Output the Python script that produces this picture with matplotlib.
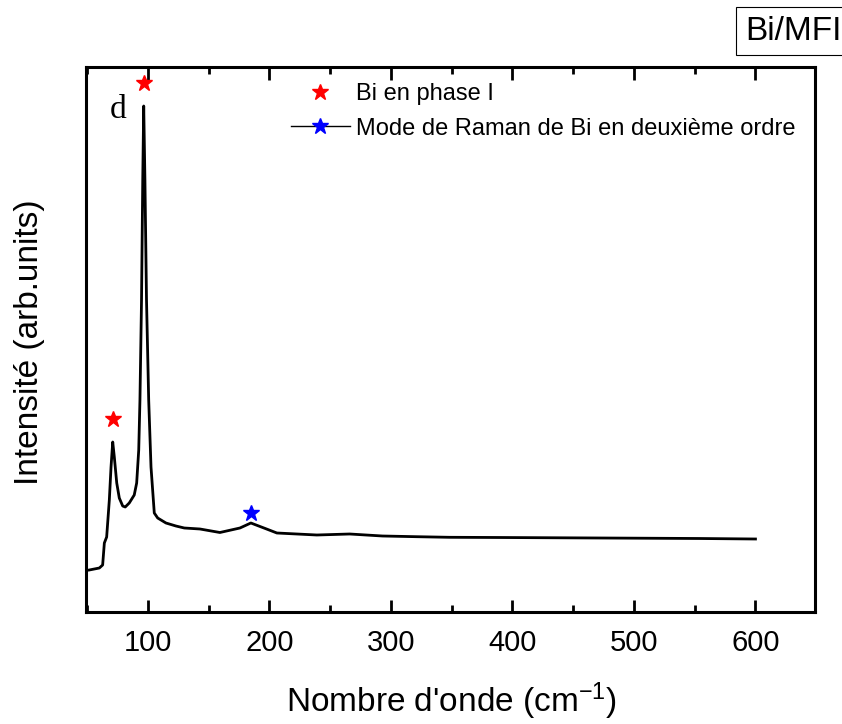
import numpy as np
import matplotlib
matplotlib.use("Agg")
import matplotlib.pyplot as plt
from matplotlib.lines import Line2D
from matplotlib.ticker import MultipleLocator

plt.rcParams["font.family"] = ["Liberation Sans", "DejaVu Sans"]
plt.rcParams["mathtext.default"] = "regular"

# Raman spectrum (wavenumber cm-1, intensity arb. units)
wavenumber = [51.7, 60.0, 62.7, 64.1, 66.0, 68.2, 69.6, 71.0, 72.3, 74.3,
              76.4, 79.2, 81.3, 84.6, 88.7, 90.7, 92.4, 93.4, 94.7, 95.7,
              96.5, 97.5, 98.8, 100.6, 102.5, 105.2, 108.0, 114.8, 123.0,
              129.9, 142.8, 159.2, 175.7, 184.7, 197.6, 206.1, 239.0, 266.0,
              293.0, 321.0, 348.0, 389.5, 471.7, 554.0, 600.0]
intensity = [42, 44, 47, 69, 75, 112, 145, 170, 155, 129,
             114, 106, 105, 109, 117, 129, 162, 212, 312, 432,
             506, 432, 312, 212, 145, 99, 94, 89, 86,
             84, 83, 79.5, 84, 89, 83, 79, 77, 78,
             76, 75.3, 74.7, 74.5, 74, 73.5, 73]

# peak markers
phase_x = [71.0, 96.5]
phase_y = [193, 529]
raman2_x = [184.7]
raman2_y = [99]

fig = plt.figure(figsize=(8.42, 7.24), dpi=100)
ax = fig.add_axes([86 / 842, 1 - 612 / 724, 729 / 842, 545 / 724])

ax.plot(wavenumber, intensity, color="black", lw=2.0)
ax.plot(phase_x, phase_y, ls="none", marker="*", ms=12, color="red", mec="red")
ax.plot(raman2_x, raman2_y, ls="none", marker="*", ms=12, color="blue", mec="blue")

ax.set_xlim(49, 649)
ax.set_ylim(0, 545)
ax.set_yticks([])
ax.xaxis.set_major_locator(MultipleLocator(100))
ax.xaxis.set_minor_locator(MultipleLocator(50))
ax.tick_params(axis="x", which="both", direction="in", top=True, width=2,
               labelsize=21, pad=12)
ax.tick_params(axis="x", which="major", length=9)
ax.tick_params(axis="x", which="minor", length=5)
for s in ax.spines.values():
    s.set_linewidth(2.2)

ax.text(75.3, 502, "d", fontsize=24, family=["Liberation Serif"],
        ha="center", va="center")

handles = [
    Line2D([], [], ls="none", marker="*", ms=12, color="red", mec="red"),
    Line2D([], [], color="black", lw=1, marker="*", ms=12, mfc="blue", mec="blue"),
]
labels = ["Bi en phase I", "Mode de Raman de Bi en deuxième ordre"]
ax.legend(handles, labels, loc="upper left", bbox_to_anchor=(0.281, 0.970),
          frameon=False, fontsize=17, handlelength=2.5, handletextpad=0.25,
          borderpad=0, borderaxespad=0, labelspacing=0.52)

fig.text(30 / 842, 0.527, "Intensité (arb.units)", rotation=90,
         fontsize=24, ha="center", va="center")
fig.text(452 / 842, 1 - 701 / 724, "Nombre d'onde (cm$^{-1}$)",
         fontsize=24, ha="center", va="center")
fig.text(793 / 842, 1 - 31 / 724, "Bi/MFI", fontsize=24, ha="center",
         va="center",
         bbox=dict(boxstyle="square,pad=0.25", fc="white", ec="black", lw=0.8))

fig.savefig("out.png", dpi=100)
